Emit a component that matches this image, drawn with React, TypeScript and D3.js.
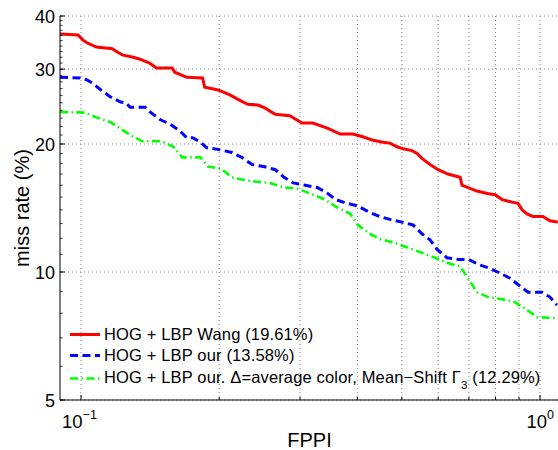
import * as d3 from 'd3'

// FPPI / miss rate (%)
const wangFppi = [0.09, 0.0985, 0.101, 0.103, 0.108, 0.117, 0.12, 0.123, 0.13, 0.134, 0.141, 0.146, 0.158, 0.16, 0.17, 0.184, 0.186, 0.199, 0.211, 0.224, 0.231, 0.243, 0.252, 0.258, 0.265, 0.285, 0.303, 0.32, 0.344, 0.367, 0.391, 0.411, 0.433, 0.455, 0.471, 0.488, 0.503, 0.526, 0.54, 0.553, 0.576, 0.6, 0.63, 0.67, 0.676, 0.697, 0.729, 0.767, 0.798, 0.827, 0.869, 0.896, 0.914, 0.937, 0.966, 1.015, 1.051, 1.094]
const wangMiss = [36.3, 36.1, 35.1, 34.6, 33.8, 33.5, 32.9, 32.4, 32.0, 31.7, 31.0, 30.2, 30.2, 29.5, 28.7, 28.6, 27.2, 26.8, 26.1, 25.2, 24.8, 24.7, 24.3, 23.9, 23.5, 23.3, 22.4, 22.4, 21.8, 21.1, 21.1, 20.8, 20.4, 20.2, 20.1, 19.7, 19.5, 19.3, 19.0, 18.5, 17.9, 17.4, 17.0, 16.7, 16.0, 15.8, 15.5, 15.3, 15.2, 14.8, 14.6, 14.5, 14.0, 13.7, 13.5, 13.5, 13.2, 13.1]

const ourFppi = [0.09, 0.0995, 0.103, 0.106, 0.11, 0.116, 0.122, 0.125, 0.128, 0.138, 0.142, 0.149, 0.156, 0.164, 0.17, 0.175, 0.182, 0.188, 0.2, 0.213, 0.224, 0.236, 0.25, 0.265, 0.277, 0.29, 0.308, 0.327, 0.342, 0.359, 0.38, 0.401, 0.426, 0.448, 0.471, 0.5, 0.529, 0.553, 0.576, 0.597, 0.627, 0.663, 0.7, 0.736, 0.778, 0.818, 0.86, 0.9, 0.942, 1.01, 1.051, 1.089]
const ourMiss = [28.7, 28.6, 28.3, 27.8, 26.9, 25.8, 25.1, 25.0, 24.4, 24.4, 23.7, 22.8, 22.3, 21.5, 20.7, 20.7, 20.2, 19.6, 19.4, 19.1, 18.6, 17.9, 17.7, 17.4, 16.7, 16.2, 16.0, 15.8, 15.4, 14.8, 14.5, 14.3, 13.8, 13.5, 13.3, 13.1, 12.9, 12.3, 11.9, 11.3, 10.8, 10.7, 10.7, 10.4, 10.2, 9.94, 9.67, 9.31, 8.96, 8.96, 8.73, 8.36]

const shiftFppi = [0.09, 0.102, 0.108, 0.116, 0.123, 0.13, 0.136, 0.15, 0.159, 0.166, 0.182, 0.189, 0.202, 0.213, 0.224, 0.242, 0.258, 0.277, 0.297, 0.32, 0.34, 0.361, 0.386, 0.401, 0.426, 0.448, 0.483, 0.516, 0.553, 0.591, 0.63, 0.67, 0.697, 0.729, 0.771, 0.827, 0.882, 0.932, 0.985, 1.089]
const shiftMiss = [23.8, 23.7, 23.1, 22.5, 21.6, 20.8, 20.3, 20.3, 19.7, 18.6, 18.6, 17.7, 17.5, 16.7, 16.5, 16.3, 16.2, 15.8, 15.7, 15.2, 14.8, 14.2, 13.7, 12.9, 12.3, 11.95, 11.7, 11.4, 11.1, 10.8, 10.5, 10.3, 9.67, 8.96, 8.73, 8.63, 8.49, 8.18, 7.83, 7.79]

const yTicks = [5, 10, 20, 30, 40]
const xTicks = [0.1, 1]
const xGrid = [0.1, 0.2, 0.3, 0.4, 0.5, 0.6, 0.7, 0.8, 0.9, 1]
const yMinor = d3.range(5, 41)

const FONT = '"Liberation Sans", Arial, Helvetica, sans-serif'

export default function App() {
  const width = 558
  const height = 450
  const left = 60
  const top = 16
  const right = 559
  const bottom = 400

  const x = d3.scaleLog().domain([0.09, 1.1]).range([left, right])
  const y = d3.scaleLog().domain([5, 40]).range([bottom, top])

  const line = d3
    .line<[number, number]>()
    .x((d) => x(d[0]))
    .y((d) => y(d[1]))

  const series = [
    { fppi: wangFppi, miss: wangMiss, color: '#ff0000', dash: undefined as string | undefined, w: 3 },
    { fppi: ourFppi, miss: ourMiss, color: '#0000ff', dash: '8,4.5', w: 3 },
    { fppi: shiftFppi, miss: shiftMiss, color: '#00ff00', dash: '8,3.5,1.5,3.5', w: 2.6 },
  ]

  const legendRows = [
    { base: 340, mid: 334.5 },
    { base: 361, mid: 355.5 },
    { base: 383, mid: 378.5 },
  ]
  const legendFont = 16.5

  return (
    <svg
      width={width}
      height={height}
      style={{ position: 'absolute', left: 0, top: 0, background: '#fff' }}
      fontFamily={FONT}
    >
      <defs>
        <clipPath id="plot">
          <rect x={left} y={top} width={right - left} height={bottom - top} />
        </clipPath>
      </defs>
      <rect x={0} y={0} width={width} height={height} fill="#fff" />

      {/* grid */}
      {xGrid.map((v) => (
        <line key={'gx' + v} x1={x(v)} x2={x(v)} y1={top} y2={bottom} stroke="#7f7f7f" strokeWidth={1} strokeDasharray="1,3" />
      ))}
      {yTicks.map((v) => (
        <line key={'gy' + v} x1={left} x2={right} y1={y(v)} y2={y(v)} stroke="#7f7f7f" strokeWidth={1} strokeDasharray="1,3" />
      ))}

      {/* curves */}
      <g clipPath="url(#plot)">
        {series.map((s, i) => (
          <path
            key={i}
            d={line(s.fppi.map((f, j) => [f, s.miss[j]] as [number, number])) || ''}
            fill="none"
            stroke={s.color}
            strokeWidth={s.w}
            strokeDasharray={s.dash}
          />
        ))}
      </g>

      {/* axes */}
      <line x1={left} x2={left} y1={top} y2={bottom} stroke="#000" strokeWidth={1} />
      <line x1={left} x2={right} y1={bottom} y2={bottom} stroke="#000" strokeWidth={1} />
      {yMinor.map((v) => (
        <line key={'my' + v} x1={left} x2={left + 2.5} y1={y(v)} y2={y(v)} stroke="#000" strokeWidth={0.8} />
      ))}
      {yTicks.map((v) => (
        <g key={'ty' + v}>
          <line x1={left} x2={left + 5} y1={y(v)} y2={y(v)} stroke="#000" strokeWidth={1} />
          <text x={left - 5} y={y(v) + 6.5} textAnchor="end" fontSize={18}>
            {v}
          </text>
        </g>
      ))}
      {xGrid.map((v) => (
        <line key={'tx' + v} x1={x(v)} x2={x(v)} y1={bottom} y2={bottom - (xTicks.includes(v) ? 5 : 3)} stroke="#000" strokeWidth={1} />
      ))}
      {xTicks.map((v) => (
        <text key={'lx' + v} x={x(v) + (v === 1 ? -13.5 : -19)} y={428} fontSize={18.5}>
          10
          <tspan fontSize={12.5} dy={-9}>
            {v === 1 ? '0' : '\u22121'}
          </tspan>
        </text>
      ))}

      <text x={(left + right) / 2} y={447} textAnchor="middle" fontSize={20}>
        FPPI
      </text>
      <text transform={`translate(29,${(top + bottom) / 2}) rotate(-90)`} textAnchor="middle" fontSize={20}>
        miss rate (%)
      </text>

      {/* legend */}
      {series.map((s, i) => (
        <line
          key={'ll' + i}
          x1={70}
          x2={100}
          y1={legendRows[i].mid}
          y2={legendRows[i].mid}
          stroke={s.color}
          strokeWidth={s.w}
          strokeDasharray={s.dash}
        />
      ))}
      <g fontSize={legendFont} letterSpacing={0.15}>
        <text x={104} y={legendRows[0].base}>
          HOG + LBP Wang (19.61%)
        </text>
        <text x={104} y={legendRows[1].base}>
          HOG + LBP our (13.58%)
        </text>
        <text x={104} y={legendRows[2].base}>
          HOG + LBP our. Δ=average color, Mean−Shift Γ
          <tspan fontSize={11.5} dy={6}>3</tspan>
          <tspan dy={-6}> (12.29%)</tspan>
        </text>
      </g>
    </svg>
  )
}
